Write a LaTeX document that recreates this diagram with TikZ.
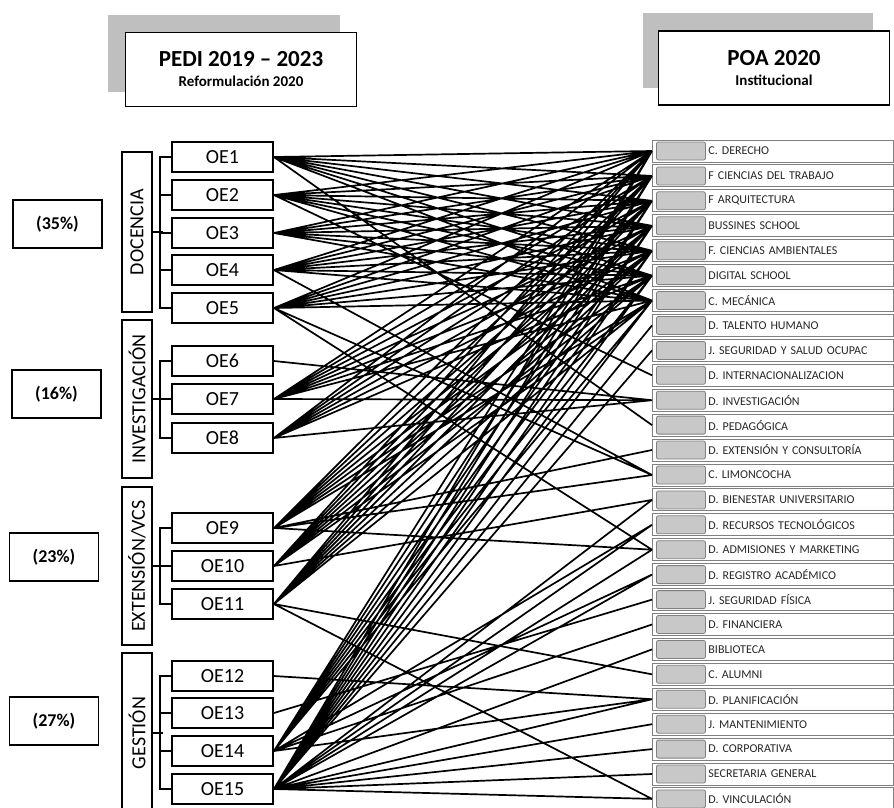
\documentclass[tikz,border=0pt]{standalone}
\usepackage{fontspec}
\setmainfont{Carlito}
\usepackage{tikz}
\definecolor{shadowgray}{RGB}{191,191,191}
\definecolor{cellgray}{RGB}{200,200,200}
\frenchspacing

\begin{document}
\begin{tikzpicture}[x=1pt,y=-1pt,line width=1.9pt,
  oe/.style={draw,minimum width=101pt,minimum height=30pt,inner sep=0pt,font=\fontsize{20}{20}\selectfont},
  area/.style={draw,rotate=90,minimum height=30pt,inner sep=0pt,font=\fontsize{20}{20}\selectfont},
  pct/.style={draw,minimum width=89pt,minimum height=48pt,font=\fontsize{18}{18}\selectfont\bfseries},
  head/.style={draw,fill=white,minimum width=231pt,minimum height=74pt,align=center,font=\bfseries},
  dept/.style={draw=gray,line width=.9pt,anchor=west,inner sep=0pt,text width=241pt,minimum height=22pt,align=left,
    font=\fontsize{12}{12}\selectfont,text=black!85,execute at begin node={\hspace*{56pt}},
    path picture={\draw[line width=.8pt,fill=cellgray,rounded corners=2pt] ([shift={(4,-2)}]path picture bounding box.south west) rectangle ([shift={(53,2)}]path picture bounding box.north west);}},
  link/.style={line width=1.7pt}]
\useasboundingbox (0,0) rectangle (894,807);
% headers
\fill[shadowgray] (108,15) rectangle (340,92);
\fill[shadowgray] (643,13) rectangle (873,88);
\node[head] (pedi) at (241,69.5) {\fontsize{23}{24}\selectfont PEDI 2019 -- 2023\\[8pt]\fontsize{15}{16}\selectfont Reformulación 2020};
\node[head] (poa) at (774,68) {\fontsize{23}{24}\selectfont POA 2020\\[8pt]\fontsize{15}{16}\selectfont Institucional};
% weights
\node[pct] (p1) at (57.5,224) {(35\%)};
\node[pct] (p2) at (56.5,394) {(16\%)};
\node[pct] (p3) at (54,557) {(23\%)};
\node[pct] (p4) at (54,721) {(27\%)};
% areas
\node[area,minimum width=160pt] (doc) at (137,232) {DOCENCIA};
\node[area,minimum width=158pt] (inv) at (137,399) {INVESTIGACIÓN};
\node[area,minimum width=158pt] (ext) at (137,566) {EXTENSIÓN/VCS};
\node[area,minimum width=160pt] (ges) at (137,733) {GESTIÓN};
% objectives
\node[oe] (oe1) at (222.5,157) {OE1};
\node[oe] (oe2) at (222.5,195) {OE2};
\node[oe] (oe3) at (222.5,233) {OE3};
\node[oe] (oe4) at (222.5,270) {OE4};
\node[oe] (oe5) at (222.5,308) {OE5};
\node[oe] (oe6) at (222.5,361) {OE6};
\node[oe] (oe7) at (222.5,399) {OE7};
\node[oe] (oe8) at (222.5,438) {OE8};
\node[oe] (oe9) at (222.5,528) {OE9};
\node[oe] (oe10) at (222.5,566) {OE10};
\node[oe] (oe11) at (222.5,604) {OE11};
\node[oe] (oe12) at (222.5,676) {OE12};
\node[oe] (oe13) at (222.5,713) {OE13};
\node[oe] (oe14) at (222.5,751) {OE14};
\node[oe] (oe15) at (222.5,789) {OE15};
\draw (oe1.west) -- ++(-11,0) |- (oe5.west) (oe2.west) -- ++(-11,0) (oe3.west) -- ++(-11,0) (oe4.west) -- ++(-11,0) (doc.south) -- ++(10,0);
\draw (oe6.west) -- ++(-11,0) |- (oe8.west) (oe7.west) -- ++(-11,0) (inv.south) -- ++(10,0);
\draw (oe9.west) -- ++(-11,0) |- (oe11.west) (oe10.west) -- ++(-11,0) (ext.south) -- ++(10,0);
\draw (oe12.west) -- ++(-11,0) |- (oe15.west) (oe13.west) -- ++(-11,0) (oe14.west) -- ++(-11,0) (ges.south) -- ++(10,0);
% units
\node[dept] (derecho) at (652,151) {C. DERECHO};
\node[dept] (trabajo) at (652,175.9) {F CIENCIAS DEL TRABAJO};
\node[dept] (arqui) at (652,200.8) {F ARQUITECTURA};
\node[dept] (business) at (652,225.8) {BUSSINES SCHOOL};
\node[dept] (ambient) at (652,250.7) {F. CIENCIAS AMBIENTALES};
\node[dept] (digital) at (652,275.6) {DIGITAL SCHOOL};
\node[dept] (mecanica) at (652,300.5) {C. MECÁNICA};
\node[dept] (talento) at (652,325.4) {D. TALENTO HUMANO};
\node[dept] (sso) at (652,350.4) {J. SEGURIDAD Y SALUD OCUPAC};
\node[dept] (internac) at (652,375.3) {D. INTERNACIONALIZACION};
\node[dept] (invest) at (652,400.2) {D. INVESTIGACIÓN};
\node[dept] (pedag) at (652,425.1) {D. PEDAGÓGICA};
\node[dept] (extcons) at (652,450) {D. EXTENSIÓN Y CONSULTORÍA};
\node[dept] (limon) at (652,475) {C. LIMONCOCHA};
\node[dept] (bienestar) at (652,499.9) {D. BIENESTAR UNIVERSITARIO};
\node[dept] (rectec) at (652,524.8) {D. RECURSOS TECNOLÓGICOS};
\node[dept] (admis) at (652,549.7) {D. ADMISIONES Y MARKETING};
\node[dept] (registro) at (652,574.6) {D. REGISTRO ACADÉMICO};
\node[dept] (segfis) at (652,599.6) {J. SEGURIDAD FÍSICA};
\node[dept] (financ) at (652,624.5) {D. FINANCIERA};
\node[dept] (biblio) at (652,649.4) {BIBLIOTECA};
\node[dept] (alumni) at (652,674.3) {C. ALUMNI};
\node[dept] (planif) at (652,699.2) {D. PLANIFICACIÓN};
\node[dept] (mant) at (652,724.2) {J. MANTENIMIENTO};
\node[dept] (corp) at (652,749.1) {D. CORPORATIVA};
\node[dept] (secgen) at (652,774) {SECRETARIA GENERAL};
\node[dept] (vincul) at (652,798.9) {D. VINCULACIÓN};
% links
\draw[link] (oe1.east) -- (derecho.west) (oe1.east) -- (trabajo.west) (oe1.east) -- (arqui.west) (oe1.east) -- (business.west) (oe1.east) -- (ambient.west) (oe1.east) -- (digital.west) (oe1.east) -- (mecanica.west) (oe1.east) -- (pedag.west)
 (oe2.east) -- (derecho.west) (oe2.east) -- (trabajo.west) (oe2.east) -- (arqui.west) (oe2.east) -- (business.west) (oe2.east) -- (ambient.west) (oe2.east) -- (digital.west) (oe2.east) -- (mecanica.west) (oe2.east) -- (internac.west)
 (oe3.east) -- (derecho.west) (oe3.east) -- (trabajo.west) (oe3.east) -- (arqui.west) (oe3.east) -- (business.west) (oe3.east) -- (ambient.west) (oe3.east) -- (digital.west) (oe3.east) -- (mecanica.west)
 (oe4.east) -- (derecho.west) (oe4.east) -- (trabajo.west) (oe4.east) -- (arqui.west) (oe4.east) -- (business.west) (oe4.east) -- (ambient.west) (oe4.east) -- (digital.west) (oe4.east) -- (mecanica.west) (oe4.east) -- (limon.west)
 (oe5.east) -- (derecho.west) (oe5.east) -- (trabajo.west) (oe5.east) -- (arqui.west) (oe5.east) -- (business.west) (oe5.east) -- (ambient.west) (oe5.east) -- (digital.west) (oe5.east) -- (mecanica.west) (oe5.east) -- (limon.west) (oe5.east) -- (admis.west)
 (oe6.east) -- (invest.west)
 (oe7.east) -- (derecho.west) (oe7.east) -- (trabajo.west) (oe7.east) -- (arqui.west) (oe7.east) -- (business.west) (oe7.east) -- (ambient.west) (oe7.east) -- (digital.west) (oe7.east) -- (mecanica.west) (oe7.east) -- (invest.west)
 (oe8.east) -- (derecho.west) (oe8.east) -- (trabajo.west) (oe8.east) -- (arqui.west) (oe8.east) -- (business.west) (oe8.east) -- (ambient.west) (oe8.east) -- (digital.west) (oe8.east) -- (invest.west)
 (oe9.east) -- (derecho.west) (oe9.east) -- (trabajo.west) (oe9.east) -- (arqui.west) (oe9.east) -- (business.west) (oe9.east) -- (ambient.west) (oe9.east) -- (digital.west) (oe9.east) -- (mecanica.west) (oe9.east) -- (extcons.west) (oe9.east) -- (limon.west) (oe9.east) -- (admis.west)
 (oe10.east) -- (derecho.west) (oe10.east) -- (trabajo.west) (oe10.east) -- (arqui.west) (oe10.east) -- (business.west) (oe10.east) -- (ambient.west) (oe10.east) -- (digital.west) (oe10.east) -- (mecanica.west) (oe10.east) -- (bienestar.west)
 (oe11.east) -- (derecho.west) (oe11.east) -- (trabajo.west) (oe11.east) -- (arqui.west) (oe11.east) -- (business.west) (oe11.east) -- (ambient.west) (oe11.east) -- (digital.west) (oe11.east) -- (mecanica.west) (oe11.east) -- (alumni.west) (oe11.east) -- (vincul.west)
 (oe12.east) -- (planif.west)
 (oe13.east) -- (segfis.west)
 (oe14.east) -- (derecho.west) (oe14.east) -- (trabajo.west) (oe14.east) -- (arqui.west) (oe14.east) -- (business.west) (oe14.east) -- (ambient.west) (oe14.east) -- (digital.west) (oe14.east) -- (mecanica.west) (oe14.east) -- (rectec.west) (oe14.east) -- (registro.west) (oe14.east) -- (financ.west) (oe14.east) -- (planif.west)
 (oe15.east) -- (derecho.west) (oe15.east) -- (trabajo.west) (oe15.east) -- (arqui.west) (oe15.east) -- (business.west) (oe15.east) -- (ambient.west) (oe15.east) -- (digital.west) (oe15.east) -- (mecanica.west) (oe15.east) -- (talento.west) (oe15.east) -- (sso.west) (oe15.east) -- (bienestar.west) (oe15.east) -- (rectec.west) (oe15.east) -- (admis.west) (oe15.east) -- (registro.west) (oe15.east) -- (biblio.west) (oe15.east) -- (planif.west) (oe15.east) -- (mant.west) (oe15.east) -- (corp.west) (oe15.east) -- (secgen.west) (oe15.east) -- (vincul.west);
\end{tikzpicture}
\end{document}
